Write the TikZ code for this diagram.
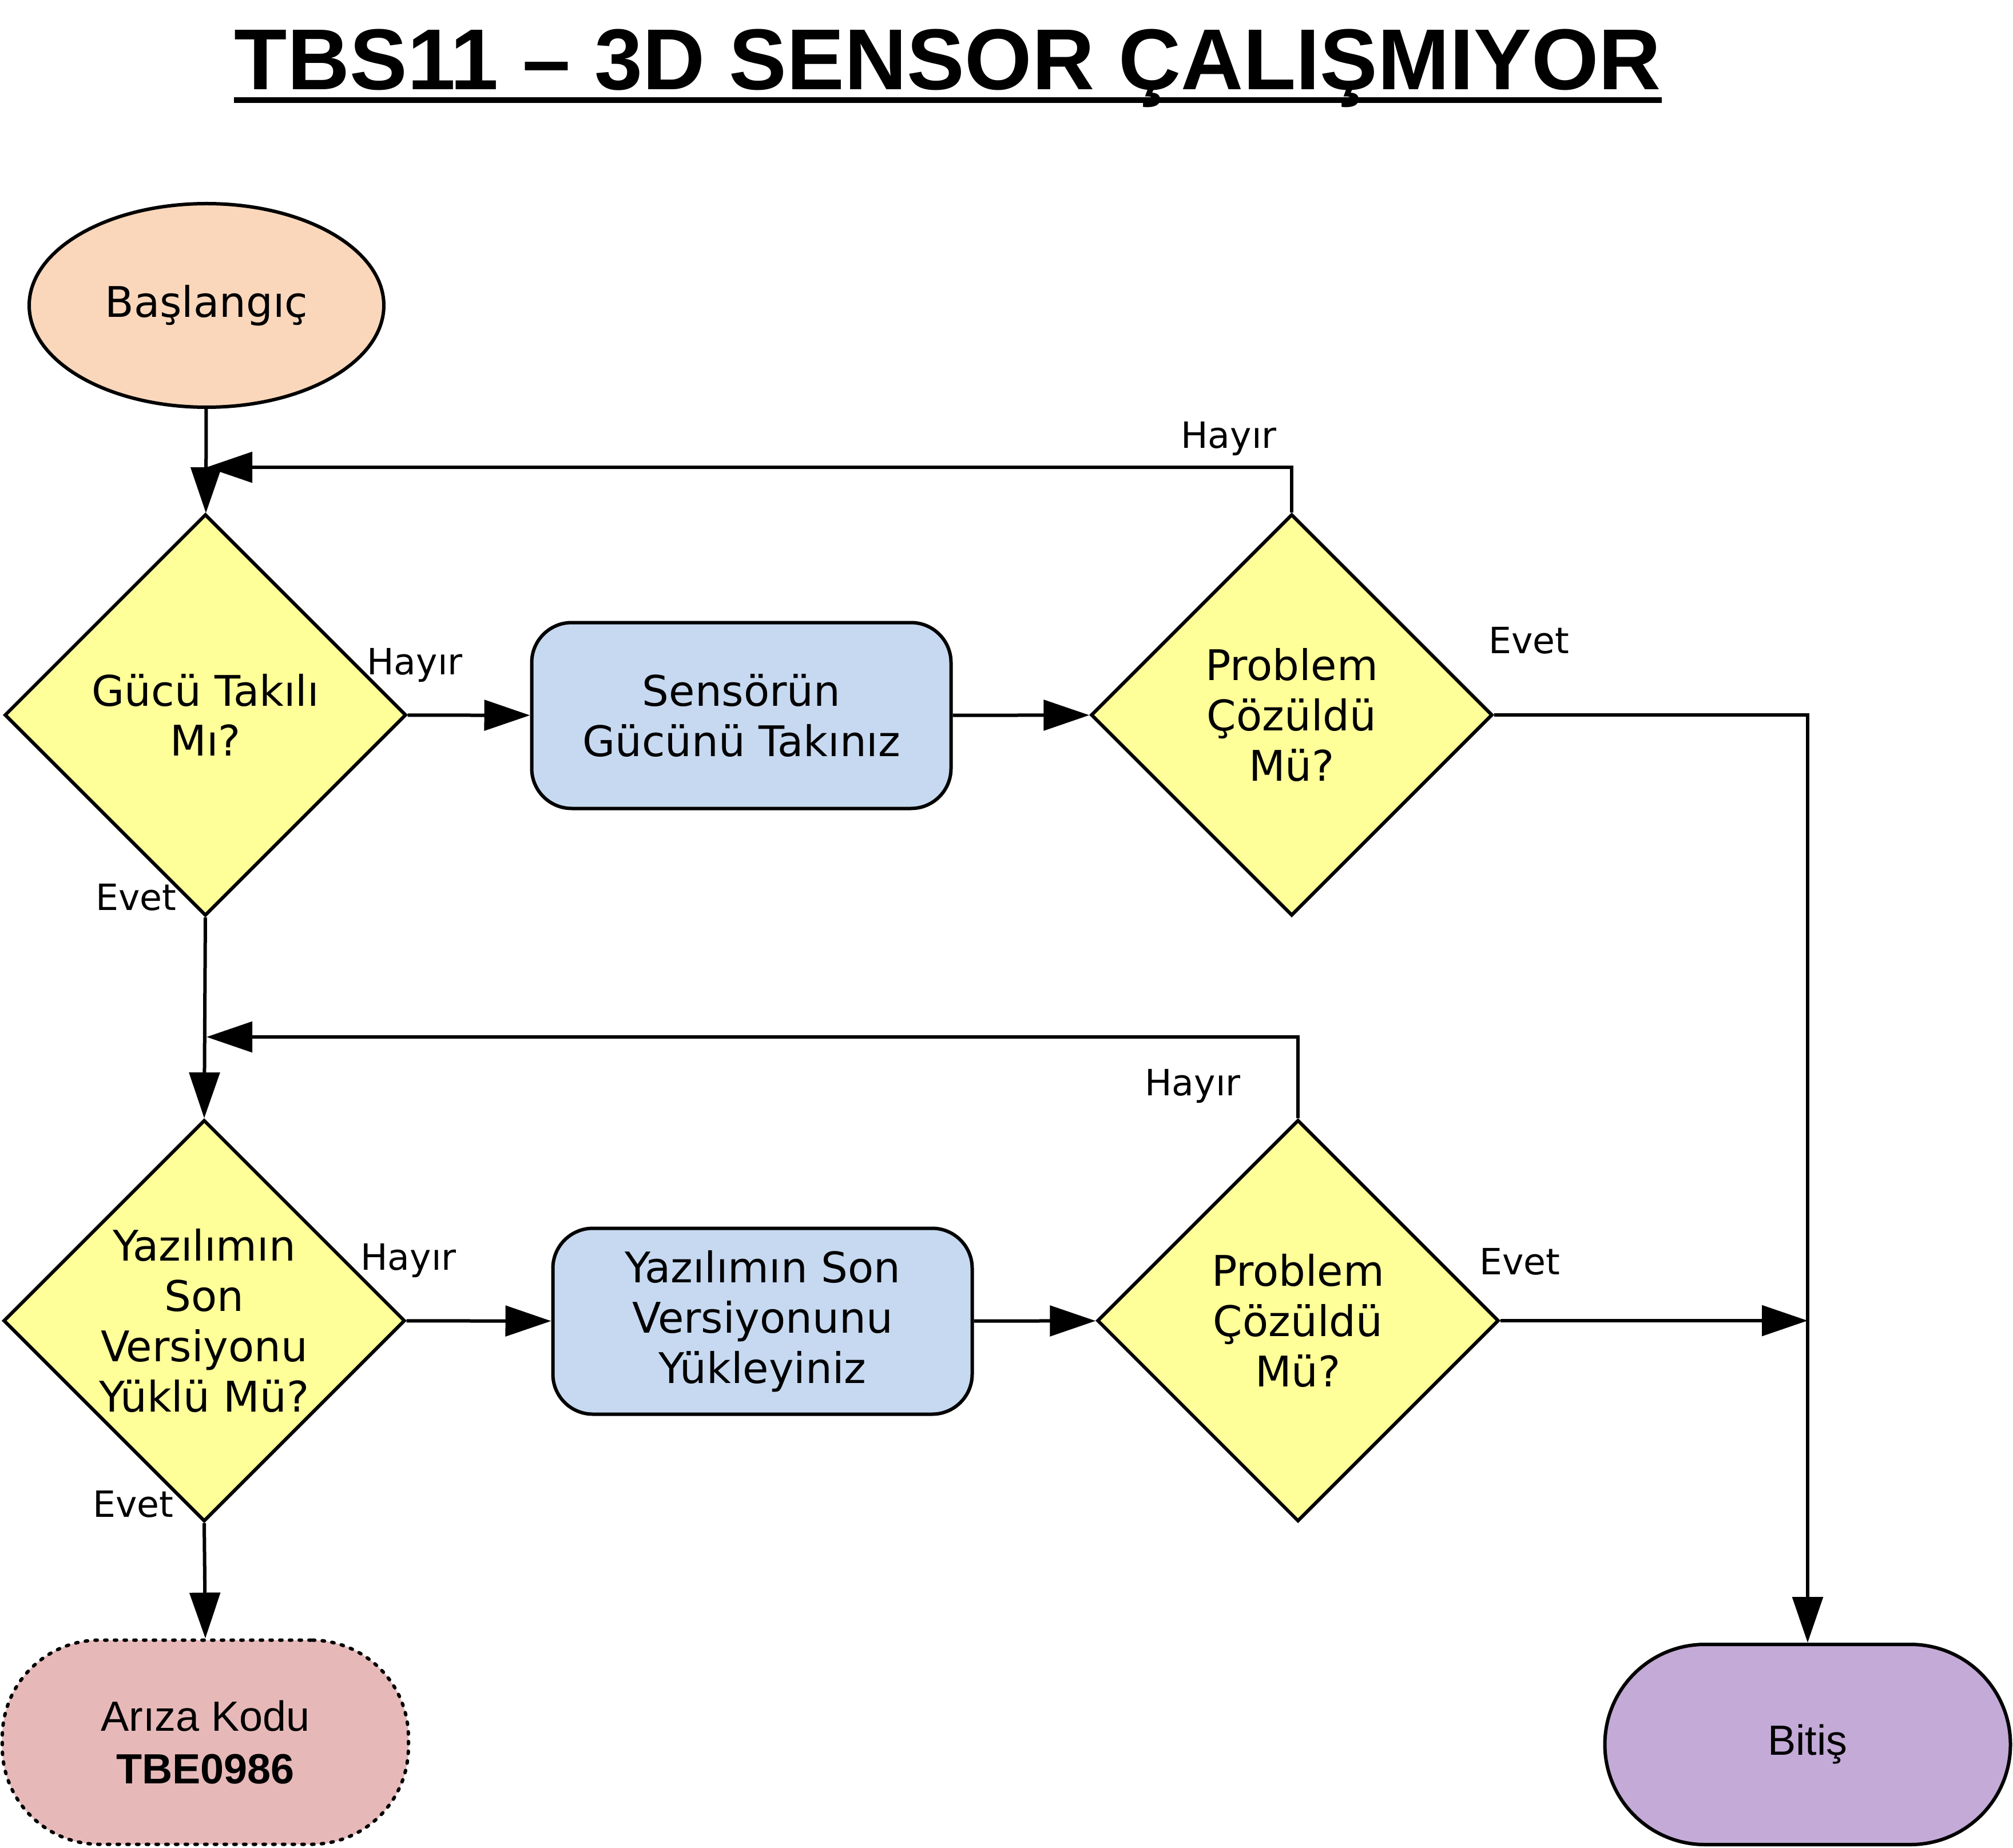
\documentclass[tikz,border=0pt]{standalone}
\usepackage{fontspec}
\setmainfont{DejaVu Sans}
\newfontfamily\arialfont{Liberation Sans}
\usepackage{xcolor}
\definecolor{startpeach}{RGB}{250,215,187}
\definecolor{decyellow}{RGB}{255,255,153}
\definecolor{procblue}{RGB}{198,217,240}
\definecolor{errpink}{RGB}{230,185,184}
\definecolor{endpurple}{RGB}{196,170,215}
\usepackage{tikz}
\usetikzlibrary{shapes,arrows.meta,calc,positioning}

\begin{document}
\begin{tikzpicture}[
  startnode/.style={ellipse, draw, fill=startpeach, line width=0.06cm, minimum width=6.2cm, minimum height=3.56cm, font=\fontsize{21}{25}\selectfont},
  decision/.style={diamond, aspect=1, draw, fill=decyellow, line width=0.06cm, minimum width=7.02cm, minimum height=7.02cm, inner sep=0pt, align=center, font=\fontsize{21}{25}\selectfont},
  processbox/.style={rectangle, draw, fill=procblue, line width=0.06cm, rounded corners=0.7cm, minimum width=7.33cm, minimum height=3.25cm, align=center, font=\fontsize{21}{25}\selectfont},
  answer/.style={font=\fontsize{18}{21}\selectfont},
  arrow/.style={-{Triangle[length=0.8cm, width=0.53cm]}, line width=0.06cm}
]
\useasboundingbox (0,0) rectangle (35.19,-32.31);

% Title
\node[font=\arialfont\bfseries\fontsize{43}{50}\selectfont, anchor=base, inner sep=0pt] (title) at (16.57, -1.57) {TBS11 – 3D SENSOR ÇALIŞMIYOR};
\draw[line width=0.1cm] ([yshift=-0.18cm]title.base west) -- ([yshift=-0.18cm]title.base east);

% Start
\node[startnode] (start) at (3.61, -5.34) {Başlangıç};

% Power check
\node[decision] (power) at (3.59, -12.50) {Gücü Takılı\\Mı?};
\node[processbox] (plugin) at (12.96, -12.51) {Sensörün\\Gücünü Takınız};
\node[decision] (solved1) at (22.58, -12.50) {Problem\\Çözüldü\\Mü?};

% Software check
\node[decision] (software) at (3.57, -23.09) {Yazılımın\\Son\\Versiyonu\\Yüklü Mü?};
\node[processbox] (update) at (13.33, -23.10) {Yazılımın Son\\Versiyonunu\\Yükleyiniz};
\node[decision] (solved2) at (22.69, -23.09) {Problem\\Çözüldü\\Mü?};

% Ends
\node[rectangle, draw, fill=errpink, line width=0.06cm, line cap=round, dash pattern=on 0.04cm off 0.13cm, rounded corners=1.7cm, minimum width=7.1cm, minimum height=3.57cm, align=center, font=\arialfont\fontsize{21}{26}\selectfont] (fault) at (3.59, -30.46) {Arıza Kodu\\\textbf{TBE0986}};
\node[rectangle, draw, fill=endpurple, line width=0.06cm, rounded corners=1.75cm, minimum width=7.09cm, minimum height=3.5cm, font=\arialfont\fontsize{21}{25}\selectfont] (finish) at (31.60, -30.50) {Bitiş};

% Loop points
\coordinate (back1) at (3.61, -8.17);
\coordinate (back2) at (3.61, -18.13);
\coordinate (join) at (31.60, -23.09);

% Connections
\draw[arrow] (start) -- (power);
\draw[arrow] (power) -- (plugin);
\draw[arrow] (plugin) -- (solved1);
\draw[arrow] (solved1.north) |- (back1);
\draw[arrow] (solved1.east) -| (finish.north);
\draw[arrow] (power.south) -- (software.north);
\draw[arrow] (software) -- (update);
\draw[arrow] (update) -- (solved2);
\draw[arrow] (solved2.north) |- (back2);
\draw[arrow] (solved2.east) -- (join);
\draw[arrow] (software.south) -- (fault.north);

% Answers
\node[answer] (p-no) at (7.25, -11.63) {Hayır};
\node[answer] (p-yes) at (2.38, -15.69) {Evet};
\node[answer] (s1-no) at (21.48, -7.67) {Hayır};
\node[answer] (s1-yes) at (26.73, -11.20) {Evet};
\node[answer] (sw-no) at (7.14, -22.04) {Hayır};
\node[answer] (sw-yes) at (2.33, -26.30) {Evet};
\node[answer] (s2-no) at (20.85, -18.99) {Hayır};
\node[answer] (s2-yes) at (26.57, -22.06) {Evet};

\end{tikzpicture}
\end{document}
